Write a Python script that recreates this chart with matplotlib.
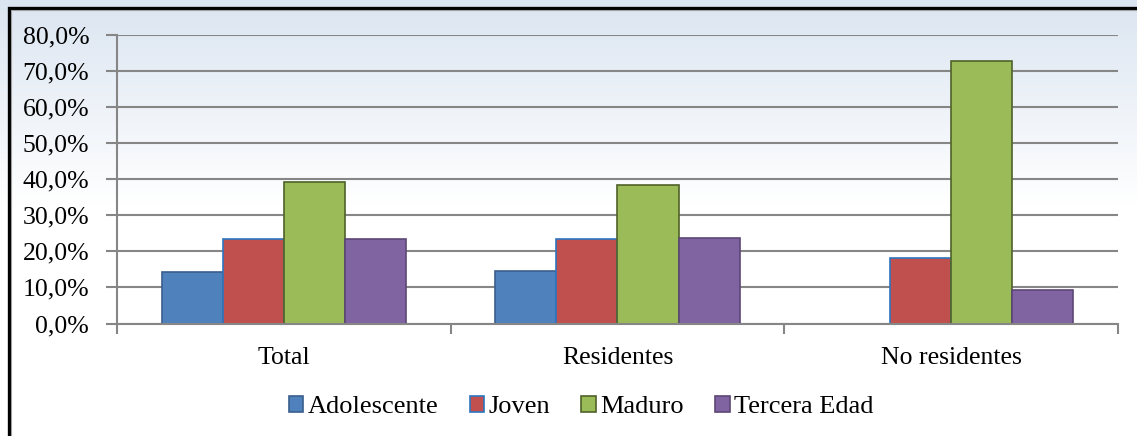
import numpy as np
import matplotlib.pyplot as plt
from matplotlib.patches import Rectangle
from matplotlib.ticker import FuncFormatter, FixedLocator

plt.rcParams['font.family'] = ['Liberation Serif', 'DejaVu Serif']

# Distribución por grupo de edad (%)
categorias = ['Total', 'Residentes', 'No residentes']
grupos = ['Adolescente', 'Joven', 'Maduro', 'Tercera Edad']
adolescente = [14.3, 14.6, 0.0]
joven = [23.3, 23.5, 18.3]
maduro = [39.3, 38.5, 72.8]
tercera_edad = [23.3, 23.8, 9.3]
series = [adolescente, joven, maduro, tercera_edad]

colores = ['#4f81bd', '#c0504d', '#9bbb59', '#8064a2']
bordes = ['#3a5f8c', '#2e75c0', '#4f6228', '#5c4776']

fig = plt.figure(figsize=(11.37, 4.36), dpi=100)

# fondo con degradado azul claro -> blanco
bg = fig.add_axes([0, 0, 1, 1], zorder=-10)
grad = np.ones((200, 1, 3))
t = np.clip(np.linspace(0, 1, 200) / 0.47, 0, 1)[:, None]
top = np.array([0xdb, 0xe5, 0xf1]) / 255
grad[:, 0, :] = top * (1 - t) + np.ones(3) * t
bg.imshow(grad, aspect='auto', extent=[0, 1, 0, 1], origin='upper')
bg.set_xlim(0, 1)
bg.set_ylim(0, 1)
bg.axis('off')
# recuadro exterior
W, H = 1137, 436
fig.patches.append(Rectangle((8.5 / W, -0.1), 1.2, 1 - 7.5 / H + 0.1,
                             transform=fig.transFigure, fill=False,
                             edgecolor='black', linewidth=2.4, zorder=5))
fig.patches.append(Rectangle((11 / W, -0.1), 1.2, 1 - 10 / H + 0.1,
                             transform=fig.transFigure, fill=False,
                             edgecolor='#a0a0a0', linewidth=0.8, zorder=5))

ax = fig.add_axes([117 / W, 1 - 323.5 / H, (1118 - 117) / W, (323.5 - 35) / H])
ax.patch.set_alpha(0)

x = np.arange(len(categorias))
ancho = 0.183
for i, (vals, c, e, nombre) in enumerate(zip(series, colores, bordes, grupos)):
    ax.bar(x + (i - 1.5) * ancho, vals, ancho, color=c, edgecolor=e,
           linewidth=1.2, label=nombre, zorder=3)

ax.set_xlim(-0.5, 2.5)
ax.set_ylim(0, 80)
ax.set_yticks(np.arange(0, 81, 10))
ax.yaxis.set_major_formatter(FuncFormatter(lambda v, p: f'{v:.1f}%'.replace('.', ',')))
ax.grid(axis='y', color='#868686', linewidth=1.5, zorder=1)
ax.tick_params(axis='y', length=8, width=1.5, color='#868686', labelsize=18.5, pad=12)

ax.xaxis.set_major_locator(FixedLocator([-0.5, 0.5, 1.5, 2.5]))
ax.xaxis.set_minor_locator(FixedLocator(x))
ax.set_xticklabels([], minor=False)
ax.set_xticklabels(categorias, minor=True)
ax.tick_params(axis='x', which='major', length=7, width=1.5, color='#868686')
ax.tick_params(axis='x', which='minor', length=0, labelsize=18.5, pad=17)

for s in ['top', 'right']:
    ax.spines[s].set_visible(False)
for s in ['left', 'bottom']:
    ax.spines[s].set_color('#868686')
    ax.spines[s].set_linewidth(1.5)
    ax.spines[s].set_zorder(4)

handles = [Rectangle((0, 0), 1, 1, facecolor=c, edgecolor=e, linewidth=1.2)
           for c, e in zip(colores, bordes)]
fig.legend(handles, grupos, loc='center', bbox_to_anchor=(581 / W, 1 - 407 / H),
           ncol=4, frameon=False, fontsize=19, handlelength=0.55, handleheight=0.55,
           handletextpad=0.15, columnspacing=1.2)

fig.savefig('out.png', dpi=100)
